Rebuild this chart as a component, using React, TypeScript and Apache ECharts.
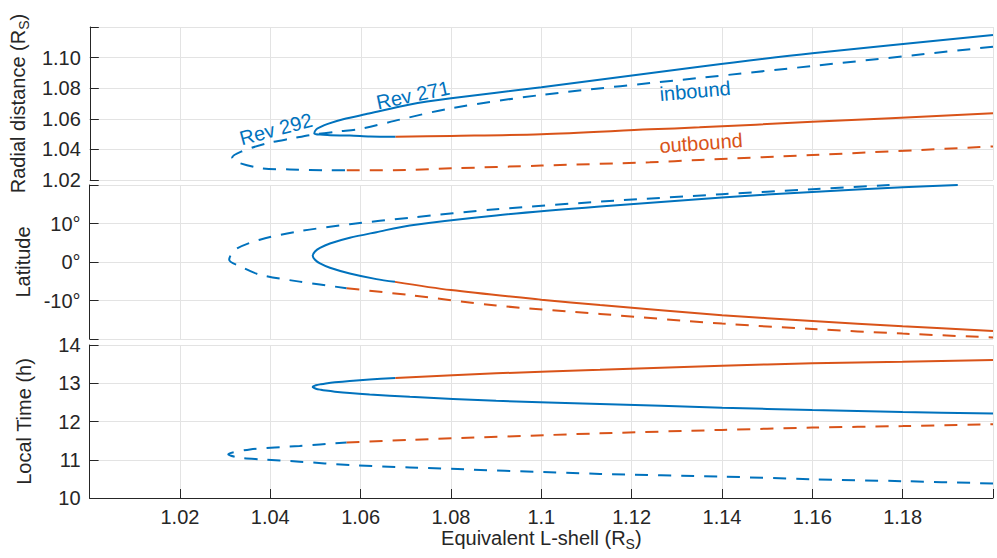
import React, { useEffect, useRef } from "react";
import * as echarts from "echarts";

// ---------- data (L-shell, value) ----------
const xTicks = { min: 1.0, max: 1.2, interval: 0.02 };

// Radial distance (R_S)
const rev271InRadial: [number, number][] = [
  [1.2, 1.1148], [1.16, 1.1028], [1.135, 1.094], [1.1, 1.0806], [1.08, 1.0734],
  [1.0709, 1.0694], [1.0618, 1.0634], [1.0561, 1.0597], [1.0527, 1.0567], [1.051, 1.0545],
  [1.0501, 1.0529], [1.0497, 1.0504], [1.0501, 1.0499], [1.051, 1.0497], [1.0532, 1.0492],
  [1.0576, 1.0491], [1.062, 1.0485], [1.0677, 1.0483],
];
const rev271OutRadial: [number, number][] = [
  [1.0677, 1.0483], [1.08, 1.0488], [1.1, 1.0499], [1.124, 1.0531], [1.135, 1.0544],
  [1.16, 1.058], [1.2, 1.0636],
];
const rev292InRadial: [number, number][] = [
  [1.2, 1.1071], [1.16, 1.0945], [1.135, 1.0867], [1.1, 1.0756], [1.08, 1.0669],
  [1.0687, 1.0595], [1.0598, 1.0533], [1.055, 1.0517], [1.0488, 1.0494], [1.045, 1.0473],
  [1.0392, 1.044], [1.0335, 1.0385], [1.0315, 1.0344], [1.0324, 1.0318], [1.0377, 1.0278],
  [1.0443, 1.0269], [1.0532, 1.0263], [1.0569, 1.0263],
];
const rev292OutRadial: [number, number][] = [
  [1.0569, 1.0263], [1.07, 1.0265], [1.08, 1.0276], [1.1, 1.0294], [1.124, 1.0316],
  [1.135, 1.0331], [1.16, 1.0363], [1.2, 1.0419],
];

// Latitude (deg)
const rev271InLat: [number, number][] = [
  [1.1922, 20.0], [1.18, 19.4], [1.16, 18.2], [1.14, 16.75], [1.113, 14.4], [1.09, 12.1],
  [1.0709, 9.5], [1.0635, 7.75], [1.0576, 6.28], [1.0532, 4.79], [1.051, 3.66], [1.0499, 2.72],
  [1.0494, 1.65], [1.0499, 0.58], [1.051, -0.37], [1.0532, -1.49], [1.0576, -2.98],
  [1.0635, -4.45], [1.0676, -5.16],
];
const rev271OutLat: [number, number][] = [
  [1.0676, -5.16], [1.08, -7.3], [1.1, -9.8], [1.113, -11.2], [1.14, -13.8], [1.16, -15.3],
  [1.18, -16.7], [1.2, -17.9],
];
const rev292InLat: [number, number][] = [
  [1.1771, 20.0], [1.16, 18.9], [1.14, 17.6], [1.116, 15.9], [1.09, 13.7], [1.0709, 11.5],
  [1.0576, 9.8], [1.0465, 8.0], [1.0377, 5.8], [1.0322, 3.2], [1.0309, 0.6], [1.0333, -1.1],
  [1.0377, -3.3], [1.0465, -5.1], [1.0569, -6.8],
];
const rev292OutLat: [number, number][] = [
  [1.0569, -6.8], [1.0709, -8.6], [1.09, -11.3], [1.113, -13.5], [1.14, -16.0], [1.16, -17.4],
  [1.18, -18.6], [1.2, -19.6],
];

// Local time (h)
const rev271InLT: [number, number][] = [
  [1.2, 12.21], [1.18, 12.25], [1.16, 12.3], [1.14, 12.36], [1.113, 12.46], [1.09, 12.54],
  [1.0709, 12.646], [1.062, 12.706], [1.0576, 12.742], [1.0543, 12.779], [1.0523, 12.808],
  [1.0512, 12.829], [1.0501, 12.858], [1.0494, 12.902], [1.0501, 12.946], [1.0512, 12.975],
  [1.0523, 12.996], [1.0543, 13.025], [1.0576, 13.061], [1.062, 13.098], [1.0677, 13.14],
];
const rev271OutLT: [number, number][] = [
  [1.0677, 13.14], [1.09, 13.26], [1.113, 13.35], [1.14, 13.46], [1.16, 13.52], [1.18, 13.56],
  [1.2, 13.61],
];
const rev292InLT: [number, number][] = [
  [1.2, 10.38], [1.18, 10.44], [1.16, 10.49], [1.14, 10.56], [1.113, 10.63], [1.0709, 10.8],
  [1.0576, 10.86], [1.0465, 10.95], [1.0377, 11.01], [1.0333, 11.05], [1.0307, 11.14],
  [1.0355, 11.27], [1.0465, 11.36], [1.0569, 11.45],
];
const rev292OutLT: [number, number][] = [
  [1.0569, 11.45], [1.0709, 11.52], [1.113, 11.69], [1.14, 11.78], [1.16, 11.84], [1.18, 11.88],
  [1.2, 11.93],
];

const annotations = [
  { text: "Rev 292", color: "blue", x: 276, y: 129, angle: 15 },
  { text: "Rev 271", color: "blue", x: 413, y: 95, angle: 12 },
  { text: "inbound", color: "blue", x: 695, y: 91, angle: 5 },
  { text: "outbound", color: "orange", x: 701, y: 143, angle: 4 },
];

// ---------- styles ----------
const BLUE = "#0072BD";
const ORANGE = "#D95319";
const INK = "#262626";
const GRID = "#e3e3e3";
const FONT = "'Liberation Sans', Arial, Helvetica, sans-serif";
const DASH = [13, 10];

const near = (a: number, b: number) => Math.abs(a - b) < 1e-9;

export default function App() {
  const ref = useRef<HTMLDivElement>(null);

  useEffect(() => {
    document.body.style.margin = "0";
    if (!ref.current) return;
    const chart = echarts.init(ref.current, undefined, { renderer: "svg" });

    const left = 89.6;
    const width = 903.4;
    const grids = [
      { left, width, top: 27, height: 153 },
      { left, width, top: 185, height: 154 },
      { left, width, top: 345, height: 153 },
    ];

    const rich = {
      n: { fontSize: 20, fontFamily: FONT, color: INK, lineHeight: 26 },
      s: { fontSize: 14, fontFamily: FONT, color: INK, lineHeight: 12, verticalAlign: "bottom" },
    };

    const xAxis = [0, 1, 2].map((i) => ({
      type: "value",
      gridIndex: i,
      min: xTicks.min,
      max: xTicks.max,
      interval: xTicks.interval,
      axisLine: { show: i === 2, onZero: false, lineStyle: { color: INK, width: 1 } },
      axisTick: { show: i === 2, inside: true, length: 9, lineStyle: { color: INK } },
      axisLabel: {
        show: i === 2,
        color: INK,
        fontSize: 20,
        fontFamily: FONT,
        margin: 9,
        formatter: (v: number) => (near(v, 1.0) || near(v, 1.2) ? "" : String(+v.toFixed(2))),
      },
      splitLine: { show: true, lineStyle: { color: GRID, width: 1 } },
      ...(i === 2
        ? {
            name: "{n|Equivalent L-shell (R}{s|S}{n|)}",
            nameLocation: "middle",
            nameGap: 27,
            nameTextStyle: { rich },
          }
        : {}),
    }));

    const yCommon = (i: number) => ({
      type: "value",
      gridIndex: i,
      axisLine: { show: true, onZero: false, lineStyle: { color: INK, width: 1 } },
      axisTick: { show: true, inside: true, length: 9, lineStyle: { color: INK } },
      splitLine: { show: true, lineStyle: { color: GRID, width: 1 } },
      nameLocation: "middle",
      nameGap: 53,
      nameTextStyle: { rich },
    });
    const labelBase = { color: INK, fontSize: 20, fontFamily: FONT, margin: 9 };

    const yAxis = [
      {
        ...yCommon(0),
        min: 1.02,
        max: 1.12,
        interval: 0.02,
        name: "{n|Radial distance (R}{s|S}{n|)}",
        axisLabel: { ...labelBase, formatter: (v: number) => (near(v, 1.12) ? "" : v.toFixed(2)) },
      },
      {
        ...yCommon(1),
        min: -20,
        max: 20,
        interval: 10,
        name: "{n|Latitude}",
        axisLabel: {
          ...labelBase,
          formatter: (v: number) => (Math.abs(v) > 19 ? "" : `${Math.round(v)}°`),
        },
      },
      {
        ...yCommon(2),
        min: 10,
        max: 14,
        interval: 1,
        name: "{n|Local Time (h)}",
        axisLabel: { ...labelBase, formatter: (v: number) => String(Math.round(v)) },
      },
    ];

    const mk = (data: [number, number][], idx: number, color: string, dashed: boolean) => ({
      type: "line",
      xAxisIndex: idx,
      yAxisIndex: idx,
      data,
      showSymbol: false,
      symbol: "none",
      smooth: 0.3,
      clip: true,
      lineStyle: { color, width: 2, type: dashed ? DASH : "solid", cap: "butt" },
      silent: true,
    });

    const series = [
      mk(rev292InRadial, 0, BLUE, true),
      mk(rev292OutRadial, 0, ORANGE, true),
      mk(rev271InRadial, 0, BLUE, false),
      mk(rev271OutRadial, 0, ORANGE, false),
      mk(rev292InLat, 1, BLUE, true),
      mk(rev292OutLat, 1, ORANGE, true),
      mk(rev271InLat, 1, BLUE, false),
      mk(rev271OutLat, 1, ORANGE, false),
      mk(rev292InLT, 2, BLUE, true),
      mk(rev292OutLT, 2, ORANGE, true),
      mk(rev271InLT, 2, BLUE, false),
      mk(rev271OutLT, 2, ORANGE, false),
    ];

    const graphic = annotations.map((a) => ({
      type: "text",
      x: a.x,
      y: a.y,
      rotation: (a.angle * Math.PI) / 180,
      z: 100,
      style: {
        text: a.text,
        fill: a.color === "blue" ? BLUE : ORANGE,
        fontSize: 20,
        fontFamily: FONT,
        textAlign: "center",
        textVerticalAlign: "middle",
        align: "center",
        verticalAlign: "middle",
      },
    }));

    chart.setOption({
      animation: false,
      backgroundColor: "#ffffff",
      grid: grids,
      xAxis,
      yAxis,
      series,
      graphic,
    } as any);

    return () => chart.dispose();
  }, []);

  return (
    <div
      ref={ref}
      style={{ position: "absolute", left: 0, top: 0, width: 997, height: 558 }}
    />
  );
}
